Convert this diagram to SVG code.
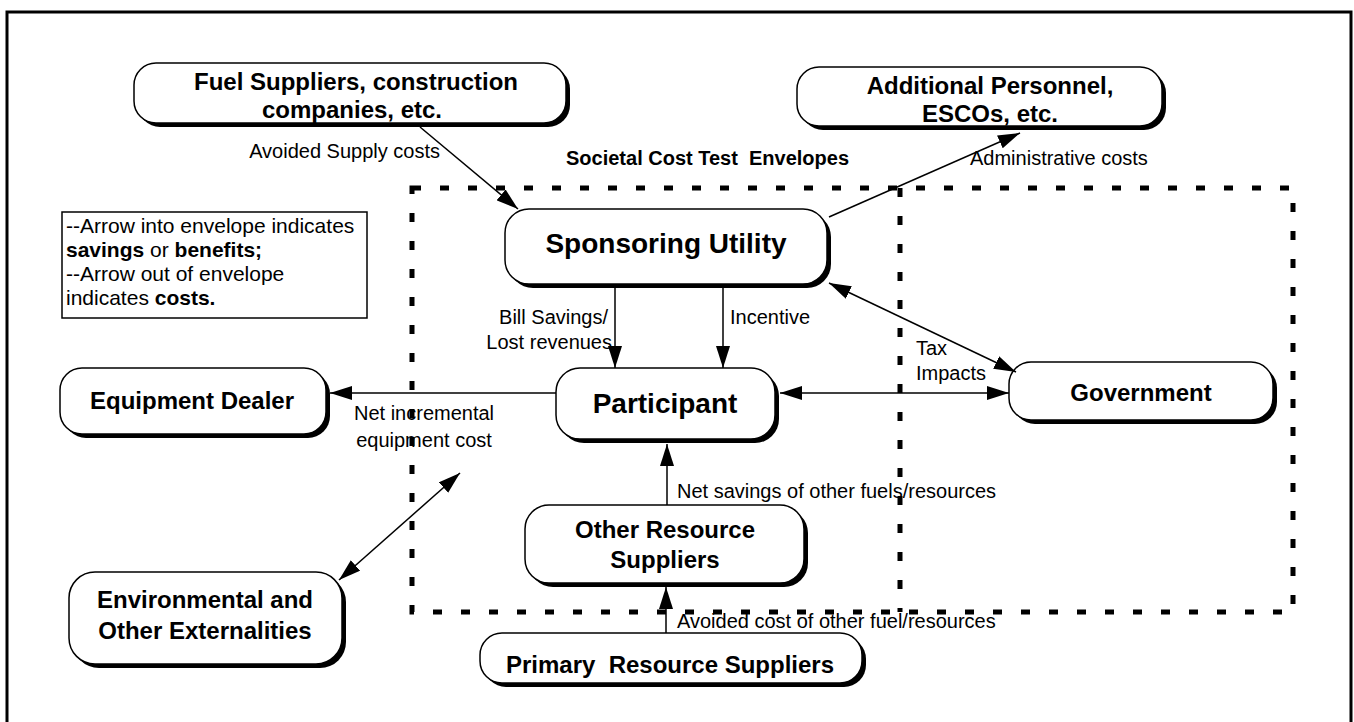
<svg xmlns="http://www.w3.org/2000/svg" width="1354" height="722" viewBox="0 0 1354 722">
<defs>
<marker id="ah" markerUnits="userSpaceOnUse" markerWidth="24" markerHeight="14" refX="22" refY="7" orient="auto-start-reverse">
<path d="M0,0 L22,7 L0,14 z" fill="#000"/>
</marker>
</defs>
<style>
.sh{fill:#000}
.bx{fill:#fff;stroke:#000;stroke-width:1.5}
.nl{font-family:"Liberation Sans",Arial,sans-serif;font-weight:bold;font-size:24px;fill:#000;text-anchor:middle}
.big{font-family:"Liberation Sans",Arial,sans-serif;font-weight:bold;font-size:28px;fill:#000;text-anchor:middle}
.el{font-family:"Liberation Sans",Arial,sans-serif;font-size:20px;fill:#000}
.lg{font-family:"Liberation Sans",Arial,sans-serif;font-size:21px;fill:#000}
.eb{font-family:"Liberation Sans",Arial,sans-serif;font-size:20px;font-weight:bold;fill:#000}
.ln{stroke:#000;stroke-width:1.5;fill:none}
.env{stroke:#000;stroke-width:5;fill:none;stroke-dasharray:9 19}
</style>
<rect width="1354" height="722" fill="#fff"/>
<path d="M7,730 V12 H1351 V730" fill="none" stroke="#000" stroke-width="3"/>

<g id="envelope">
<rect class="env" x="412" y="188" width="881" height="424"/>
<line class="env" x1="900" y1="188" x2="900" y2="612"/>
<text class="eb" x="566" y="165" style="white-space:pre">Societal Cost Test  Envelopes</text>
</g>

<g id="legend">
<rect x="62" y="212" width="305" height="106" fill="#fff" stroke="#000" stroke-width="1.5"/>
<text class="lg" x="66" y="233">--Arrow into envelope indicates</text>
<text class="lg" x="66" y="257"><tspan font-weight="bold">savings</tspan> or <tspan font-weight="bold">benefits;</tspan></text>
<text class="lg" x="66" y="281">--Arrow out of envelope</text>
<text class="lg" x="66" y="305">indicates <tspan font-weight="bold">costs.</tspan></text>
</g>

<g id="fuel">
<rect class="sh" x="138" y="67" width="432" height="60" rx="22"/>
<rect class="bx" x="134" y="63" width="432" height="60" rx="22"/>
<text class="nl" x="356" y="90">Fuel Suppliers, construction</text>
<text class="nl" x="352" y="118">companies, etc.</text>
</g>

<g id="additional">
<rect class="sh" x="801" y="71" width="365" height="59" rx="22"/>
<rect class="bx" x="797" y="67" width="365" height="59" rx="22"/>
<text class="nl" x="990" y="94">Additional Personnel,</text>
<text class="nl" x="990" y="122">ESCOs, etc.</text>
</g>

<g id="sponsoring">
<rect class="sh" x="509" y="213" width="322" height="75" rx="24"/>
<rect class="bx" x="505" y="209" width="322" height="75" rx="24"/>
<text class="big" x="666" y="253">Sponsoring Utility</text>
</g>

<g id="participant">
<rect class="sh" x="560" y="372" width="219" height="71" rx="24"/>
<rect class="bx" x="556" y="368" width="219" height="71" rx="24"/>
<text class="big" x="665" y="413">Participant</text>
</g>

<g id="government">
<rect class="sh" x="1013" y="366" width="264" height="58" rx="22"/>
<rect class="bx" x="1009" y="362" width="264" height="58" rx="22"/>
<text class="nl" x="1141" y="401">Government</text>
</g>

<g id="equipment">
<rect class="sh" x="64" y="372" width="266" height="66" rx="22"/>
<rect class="bx" x="60" y="368" width="266" height="66" rx="22"/>
<text class="nl" x="192" y="409">Equipment Dealer</text>
</g>

<g id="environmental">
<rect class="sh" x="73" y="576" width="273" height="92" rx="26"/>
<rect class="bx" x="69" y="572" width="273" height="92" rx="26"/>
<text class="nl" x="205" y="608">Environmental and</text>
<text class="nl" x="205" y="639">Other Externalities</text>
</g>

<g id="other">
<rect class="sh" x="529" y="509" width="279" height="78" rx="24"/>
<rect class="bx" x="525" y="505" width="279" height="78" rx="24"/>
<text class="nl" x="665" y="538">Other Resource</text>
<text class="nl" x="665" y="568">Suppliers</text>
</g>

<g id="primary">
<rect class="sh" x="484" y="637" width="382" height="50" rx="22"/>
<rect class="bx" x="480" y="633" width="382" height="50" rx="22"/>
<text class="nl" x="670" y="673" style="white-space:pre">Primary  Resource Suppliers</text>
</g>

<g id="connectors">
<line class="ln" x1="420" y1="127" x2="518" y2="209" marker-end="url(#ah)"/>
<line class="ln" x1="829" y1="217" x2="1020" y2="133" marker-end="url(#ah)"/>
<line class="ln" x1="615" y1="288" x2="615" y2="368" marker-end="url(#ah)"/>
<line class="ln" x1="723" y1="288" x2="723" y2="368" marker-end="url(#ah)"/>
<line class="ln" x1="556" y1="393" x2="330" y2="393" marker-end="url(#ah)"/>
<line class="ln" x1="780" y1="393" x2="1009" y2="393" marker-start="url(#ah)" marker-end="url(#ah)"/>
<line class="ln" x1="829" y1="283" x2="1016" y2="372" marker-start="url(#ah)" marker-end="url(#ah)"/>
<line class="ln" x1="339" y1="580" x2="460" y2="473" marker-start="url(#ah)" marker-end="url(#ah)"/>
<line class="ln" x1="667" y1="505" x2="667" y2="444" marker-end="url(#ah)"/>
<line class="ln" x1="666" y1="633" x2="666" y2="587" marker-end="url(#ah)"/>
<text class="el" x="440" y="158" text-anchor="end">Avoided Supply costs</text>
<text class="el" x="970" y="165">Administrative costs</text>
<text class="el" x="608" y="324" text-anchor="end">Bill Savings/</text>
<text class="el" x="612" y="349" text-anchor="end">Lost revenues</text>
<text class="el" x="730" y="324">Incentive</text>
<text class="el" x="916" y="355">Tax</text>
<text class="el" x="916" y="380">Impacts</text>
<text class="el" x="424" y="420" text-anchor="middle">Net incremental</text>
<text class="el" x="424" y="447" text-anchor="middle">equipment cost</text>
<text class="el" x="677" y="498">Net savings of other fuels/resources</text>
<text class="el" x="677" y="628">Avoided cost of other fuel/resources</text>
</g>
</svg>
